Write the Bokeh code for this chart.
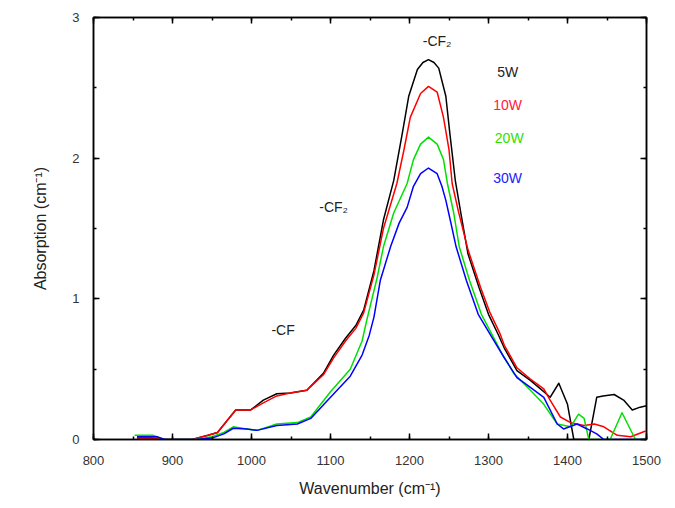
from bokeh.plotting import figure
from bokeh.models import LinearAxis, SingleIntervalTicker, Range1d
from bokeh.core.properties import value
from bokeh.embed import file_html
from bokeh.resources import INLINE

# ---- data ----
w_5w = [855, 870, 885, 925, 945, 957, 970, 980, 999, 1015, 1032, 1049, 1070, 1091, 1104, 1119, 1132, 1142,
        1155, 1167, 1180, 1191, 1199, 1210, 1217, 1224, 1231, 1237, 1246, 1251, 1258, 1265, 1274, 1288,
        1300, 1312, 1320, 1336, 1353, 1370, 1378, 1389, 1400, 1408, 1427, 1437, 1445, 1459, 1471, 1482,
        1492, 1500]
a_5w = [0.01, 0.01, 0.0, 0.0, 0.03, 0.05, 0.14, 0.21, 0.21, 0.28, 0.325, 0.33, 0.35, 0.47, 0.60, 0.72, 0.81, 0.92,
        1.20, 1.56, 1.84, 2.18, 2.44, 2.63, 2.68, 2.70, 2.68, 2.64, 2.44, 2.18, 1.84, 1.61, 1.32, 1.08,
        0.89, 0.75, 0.65, 0.49, 0.42, 0.34, 0.30, 0.40, 0.25, 0.0, 0.0, 0.30, 0.31, 0.32, 0.28, 0.21,
        0.23, 0.24]

w_10w = [855, 880, 890, 925, 945, 957, 970, 980, 999, 1015, 1032, 1049, 1070, 1091, 1104, 1119, 1132, 1142,
         1155, 1167, 1184, 1193, 1201, 1214, 1224, 1235, 1243, 1250, 1254, 1262, 1274, 1290, 1302, 1314,
         1320, 1336, 1353, 1370, 1378, 1391, 1404, 1421, 1434, 1446, 1463, 1480, 1499]
a_10w = [0.01, 0.01, 0.0, 0.0, 0.03, 0.05, 0.14, 0.21, 0.21, 0.26, 0.31, 0.33, 0.35, 0.46, 0.58, 0.70, 0.79, 0.90,
         1.17, 1.50, 1.82, 2.06, 2.29, 2.46, 2.51, 2.47, 2.29, 2.06, 1.82, 1.62, 1.35, 1.08, 0.90, 0.76,
         0.67, 0.51, 0.43, 0.36, 0.28, 0.16, 0.12, 0.10, 0.11, 0.09, 0.03, 0.02, 0.06]

w_20w = [852, 875, 890, 930, 950, 965, 977, 994, 1007, 1032, 1058, 1075, 1100, 1125, 1140, 1146, 1159, 1167,
         1180, 1197, 1205, 1214, 1224, 1235, 1243, 1248, 1256, 1263, 1276, 1291, 1306, 1319, 1332, 1353,
         1370, 1387, 1404, 1414, 1421, 1427, 1454, 1469, 1486, 1500]
a_20w = [0.03, 0.03, 0.0, 0.0, 0.02, 0.05, 0.09, 0.075, 0.065, 0.11, 0.12, 0.16, 0.34, 0.50, 0.70, 0.85, 1.15, 1.37,
         1.61, 1.82, 1.99, 2.10, 2.15, 2.10, 1.99, 1.82, 1.61, 1.37, 1.13, 0.89, 0.73, 0.59, 0.47, 0.35,
         0.25, 0.11, 0.09, 0.18, 0.15, 0.0, 0.0, 0.19, 0.0, 0.0]

w_30w = [855, 880, 890, 930, 950, 965, 977, 994, 1007, 1032, 1058, 1075, 1100, 1125, 1140, 1149, 1155, 1163,
         1176, 1187, 1197, 1205, 1214, 1224, 1235, 1241, 1246, 1252, 1259, 1272, 1287, 1304, 1319, 1336,
         1353, 1370, 1387, 1395, 1412, 1425, 1437, 1446, 1500]
a_30w = [0.02, 0.02, 0.0, 0.0, 0.01, 0.04, 0.08, 0.075, 0.065, 0.10, 0.11, 0.15, 0.30, 0.45, 0.60, 0.74, 0.87, 1.13,
         1.37, 1.54, 1.65, 1.80, 1.89, 1.93, 1.89, 1.80, 1.70, 1.55, 1.37, 1.13, 0.89, 0.73, 0.59, 0.44,
         0.37, 0.30, 0.11, 0.075, 0.11, 0.075, 0.04, 0.0, 0.0]

series_names = ["5W", "10W", "20W", "30W"]
series_colors = ["#000000", "#ff0000", "#00e000", "#0000ff"]
label_colors = ["#222222", "#ff2040", "#30e000", "#2020ff"]
label_x = [1311, 1306, 1308, 1306]
label_y = [2.61, 2.38, 2.14, 1.86]

peak_labels = ["-CF\u2082", "-CF\u2082", "-CF"]
peak_x = [1235, 1104, 1040]
peak_y = [2.83, 1.65, 0.78]

x_ticks_interval = 100
y_ticks_interval = 1

FONT = "Liberation Sans"

p = figure(width=668, height=503, output_backend="svg", toolbar_location=None,
           x_range=Range1d(800, 1500), y_range=Range1d(0, 3),
           min_border_left=93, min_border_right=22, min_border_top=17, min_border_bottom=64)
p.grid.visible = False
p.outline_line_color = "black"
p.outline_line_width = 1.5
p.background_fill_color = "white"
p.border_fill_color = "white"

for xs, ys, c in zip([w_5w, w_10w, w_20w, w_30w], [a_5w, a_10w, a_20w, a_30w], series_colors):
    p.line(xs, ys, line_color=c, line_width=1.5, line_join="round")

for t, x, y, c in zip(series_names, label_x, label_y, label_colors):
    p.text(x=[x], y=[y], text=[t], text_color=c, text_font=value(FONT), text_font_size="14px",
           text_align="left", text_baseline="middle")

for t, x, y in zip(peak_labels, peak_x, peak_y):
    p.text(x=[x], y=[y], text=[t], text_color="#222222", text_font=value(FONT), text_font_size="14px",
           text_align="center", text_baseline="middle")

def style_axis(ax, show_labels=True):
    ax.axis_line_width = 1.5
    ax.axis_line_color = "black"
    ax.major_tick_in = 6
    ax.major_tick_out = 0
    ax.minor_tick_in = 3
    ax.minor_tick_out = 0
    ax.major_tick_line_width = 1.5
    ax.minor_tick_line_width = 1.5
    ax.major_label_text_font = FONT
    ax.major_label_text_font_size = "13px"
    ax.major_label_text_color = "#333333" if show_labels else None
    ax.axis_label_text_font = FONT
    ax.axis_label_text_font_size = "16px"
    ax.axis_label_text_font_style = "normal"
    ax.axis_label_text_color = "#222222"

xa = p.xaxis[0]
xa.ticker = SingleIntervalTicker(interval=x_ticks_interval, num_minor_ticks=2)
style_axis(xa)
xa.major_label_standoff = 16
xa.axis_label = "Wavenumber (cm\u207b\u00b9)"
xa.axis_label_standoff = 12

ya = p.yaxis[0]
ya.ticker = SingleIntervalTicker(interval=y_ticks_interval, num_minor_ticks=2)
style_axis(ya)
ya.major_label_standoff = 14
ya.axis_label = "Absorption (cm\u207b\u00b9)"
ya.axis_label_standoff = 20

top = LinearAxis(ticker=SingleIntervalTicker(interval=x_ticks_interval, num_minor_ticks=2))
style_axis(top, show_labels=False)
top.major_label_standoff = 0
p.add_layout(top, "above")

right = LinearAxis(ticker=SingleIntervalTicker(interval=y_ticks_interval, num_minor_ticks=2))
style_axis(right, show_labels=False)
right.major_label_standoff = 0
p.add_layout(right, "right")

open("out.html", "w").write(file_html(p, INLINE))
